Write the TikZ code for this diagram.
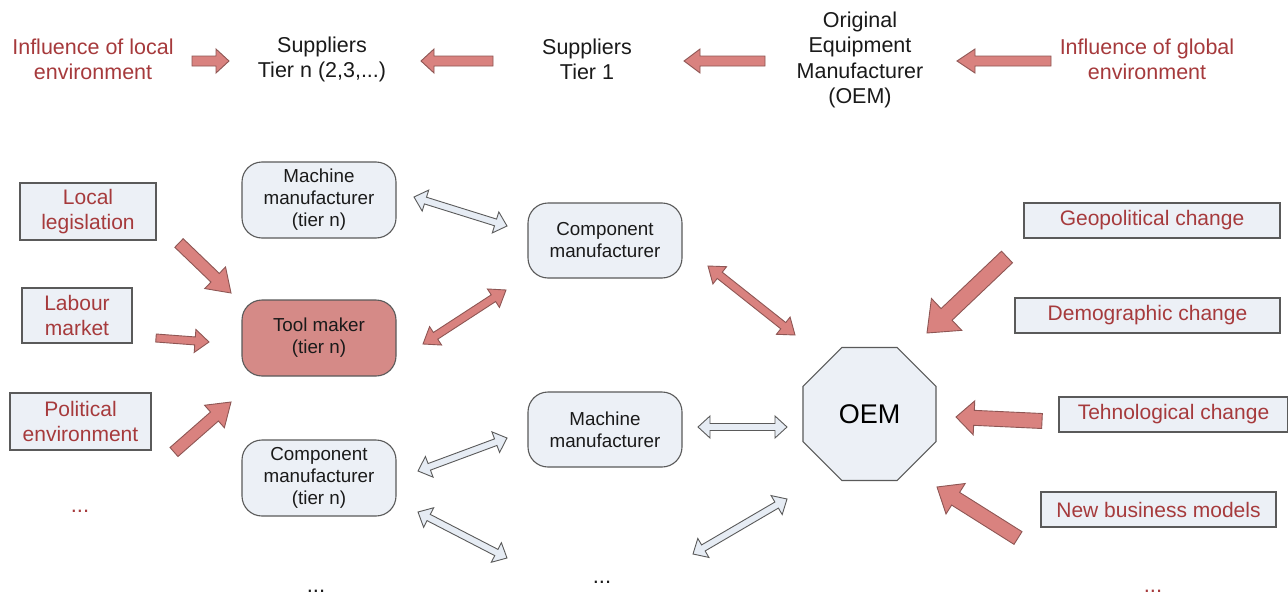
\documentclass[tikz,border=0pt]{standalone}
\usepackage{fontspec}
\setmainfont{Liberation Sans}
\usetikzlibrary{calc,shapes.geometric}
\definecolor{arrred}{HTML}{D9827F}
\definecolor{arrredline}{HTML}{8E5654}
\definecolor{toolfill}{HTML}{D58A87}
\definecolor{boxfill}{HTML}{ECF0F6}
\definecolor{lightarr}{HTML}{E6ECF4}
\definecolor{edgegray}{HTML}{5A5A5A}
\definecolor{txtred}{HTML}{A63A3C}
\definecolor{txtblack}{HTML}{1A1A1A}
% single block arrow: style, tail, head, half body, half head, head length
\newcommand{\mysinglearrow}[6]{%
  \coordinate (sa-n) at ($(#3)!#6!(#2)$);
  \filldraw[#1] ($(#2)!#4!90:(#3)$) -- ($(sa-n)!#4!90:(#3)$) -- ($(sa-n)!#5!90:(#3)$) -- (#3)
    -- ($(sa-n)!#5!-90:(#3)$) -- ($(sa-n)!#4!-90:(#3)$) -- ($(#2)!#4!-90:(#3)$) -- cycle;}
% double block arrow: style, end a, end b, half body, half head, head length
\newcommand{\mydoublearrow}[6]{%
  \coordinate (da-a) at ($(#2)!#6!(#3)$);
  \coordinate (da-b) at ($(#3)!#6!(#2)$);
  \filldraw[#1] (#2) -- ($(da-a)!#5!90:(#3)$) -- ($(da-a)!#4!90:(#3)$) -- ($(da-b)!#4!-90:(#2)$)
    -- ($(da-b)!#5!-90:(#2)$) -- (#3) -- ($(da-b)!#5!90:(#2)$) -- ($(da-b)!#4!90:(#2)$)
    -- ($(da-a)!#4!-90:(#3)$) -- ($(da-a)!#5!-90:(#3)$) -- cycle;}
\begin{document}
\begin{tikzpicture}[x=1pt,y=-1pt,
  toptxt/.style={align=center,font=\fontsize{21.5}{25.5}\selectfont,inner sep=0pt},
  redtxt/.style={toptxt,text=txtred},
  blktxt/.style={toptxt,text=txtblack},
  envbox/.style={draw=edgegray,line width=1.1pt,fill=boxfill,align=center,text=txtred,
    font=\fontsize{21}{25}\selectfont,inner sep=0pt},
  firmbox/.style={draw=edgegray,line width=1.1pt,fill=boxfill,rounded corners=20pt,align=center,
    text=txtblack,font=\fontsize{18.8}{22}\selectfont,inner sep=0pt,minimum width=154pt,minimum height=76pt},
  redarrow/.style={fill=arrred,draw=arrredline,line width=0.9pt,line join=miter},
  lightarrow/.style={fill=lightarr,draw=edgegray,line width=0.9pt,line join=miter},
  dots/.style={font=\fontsize{22}{25}\selectfont,inner sep=0pt}]
\useasboundingbox (0,0) rectangle (1288,597);
\fill[white] (0,0) rectangle (1288,597);
% ---- top row
\node[redtxt] (infl) at (93,59.5) {Influence of local\\environment};
\node[blktxt] (sn) at (322,59.5) {Suppliers\\Tier n (2,3,...)};
\node[blktxt] (s1) at (587,59.5) {Suppliers\\Tier 1};
\node[blktxt] (oemt) at (860,60) {Original\\Equipment\\Manufacturer\\(OEM)};
\node[redtxt] (infg) at (1147,59.5) {Influence of global\\environment};
\coordinate (t1a) at (192,61); \coordinate (t1b) at (229,61);
\coordinate (t2a) at (493,61); \coordinate (t2b) at (421,61);
\coordinate (t3a) at (765,61); \coordinate (t3b) at (684,61);
\coordinate (t4a) at (1051,61); \coordinate (t4b) at (957,61);
\mysinglearrow{redarrow}{t1a}{t1b}{5pt}{12pt}{13pt}
\mysinglearrow{redarrow}{t2a}{t2b}{5pt}{12pt}{13pt}
\mysinglearrow{redarrow}{t3a}{t3b}{5pt}{12pt}{16pt}
\mysinglearrow{redarrow}{t4a}{t4b}{5pt}{12pt}{18pt}
% ---- left environment boxes
\node[envbox,minimum width=136pt,minimum height=57pt] (leg) at (88,211.5) {Local\\legislation};
\node[envbox,minimum width=110pt,minimum height=55pt] (lab) at (77,315.5) {Labour\\market};
\node[envbox,minimum width=141pt,minimum height=57pt] (pol) at (80.5,421.5) {Political\\environment};
\node[dots,text=txtred] (dl) at (80,511) {...};
% ---- firms
\node[firmbox] (mmn) at (319,200) {Machine\\manufacturer\\(tier n)};
\node[firmbox,fill=toolfill] (tool) at (319,338) {Tool maker\\(tier n)};
\node[firmbox] (cmn) at (319,478) {Component\\manufacturer\\(tier n)};
\node[dots,text=txtblack] (db1) at (316,591) {...};
\node[firmbox,minimum height=75pt] (cm) at (605,240.5) {Component\\manufacturer};
\node[firmbox,minimum height=75pt] (mm) at (605,429.5) {Machine\\manufacturer};
\node[dots,text=txtblack] (db2) at (602,582) {...};
\node[regular polygon,regular polygon sides=8,minimum size=144pt,inner sep=0pt,
  draw=edgegray,line width=1.1pt,fill=boxfill,font=\fontsize{27}{30}\selectfont,text=black] (oem) at (869.5,414) {OEM};
% ---- right environment boxes
\node[envbox,minimum width=256pt,minimum height=35pt] (geo) at (1152,220.5) {Geopolitical change};
\node[envbox,minimum width=265pt,minimum height=35pt] (dem) at (1147.5,315.5) {Demographic change};
\node[envbox,minimum width=229pt,minimum height=35pt] (tec) at (1173.5,414.5) {Tehnological change};
\node[envbox,minimum width=235pt,minimum height=35pt] (nbm) at (1158.5,509.5) {New business models};
\node[dots,text=txtred] (dr) at (1153,591) {...};
% ---- influence arrows (left)
\coordinate (l1a) at (179,243); \coordinate (l1b) at (231,293);
\coordinate (l2a) at (156,338); \coordinate (l2b) at (209,342);
\coordinate (l3a) at (174,452); \coordinate (l3b) at (231,402);
\mysinglearrow{redarrow}{l1a}{l1b}{6pt}{15pt}{22pt}
\mysinglearrow{redarrow}{l2a}{l2b}{4pt}{11.5pt}{14pt}
\mysinglearrow{redarrow}{l3a}{l3b}{6pt}{15pt}{22pt}
% ---- influence arrows (right)
\coordinate (r1a) at (1007,257); \coordinate (r1b) at (927,333);
\coordinate (r2a) at (1042,421); \coordinate (r2b) at (956,417);
\coordinate (r3a) at (1018,538); \coordinate (r3b) at (937,487);
\mysinglearrow{redarrow}{r1a}{r1b}{8pt}{22pt}{27pt}
\mysinglearrow{redarrow}{r2a}{r2b}{7.5pt}{17pt}{18pt}
\mysinglearrow{redarrow}{r3a}{r3b}{7.5pt}{18pt}{22pt}
% ---- relation arrows
\coordinate (d1a) at (423,344); \coordinate (d1b) at (506,290);
\coordinate (d2a) at (708,266); \coordinate (d2b) at (795,335);
\mydoublearrow{redarrow}{d1a}{d1b}{4pt}{11pt}{15pt}
\mydoublearrow{redarrow}{d2a}{d2b}{4pt}{11pt}{15pt}
\coordinate (e1a) at (414,197); \coordinate (e1b) at (507,226);
\coordinate (e2a) at (698,427); \coordinate (e2b) at (787,427);
\coordinate (e3a) at (418,471); \coordinate (e3b) at (507,438);
\coordinate (e4a) at (418,512); \coordinate (e4b) at (507,558);
\coordinate (e5a) at (693,554); \coordinate (e5b) at (787,499);
\mydoublearrow{lightarrow}{e1a}{e1b}{3.5pt}{11pt}{12pt}
\mydoublearrow{lightarrow}{e2a}{e2b}{3.5pt}{11pt}{12pt}
\mydoublearrow{lightarrow}{e3a}{e3b}{3.5pt}{11pt}{12pt}
\mydoublearrow{lightarrow}{e4a}{e4b}{3.5pt}{11pt}{12pt}
\mydoublearrow{lightarrow}{e5a}{e5b}{3.5pt}{11pt}{12pt}
\end{tikzpicture}
\end{document}
